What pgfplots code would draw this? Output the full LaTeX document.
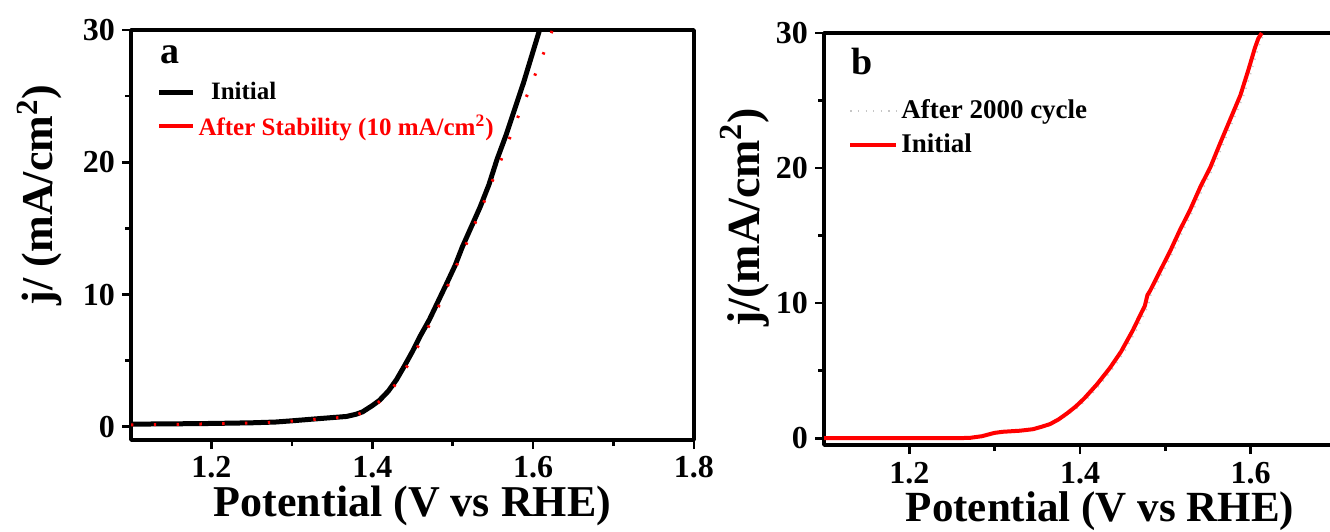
\documentclass[border=0pt]{standalone}
\usepackage{fontspec}
\setmainfont{Liberation Serif}
\usepackage{pgfplots}
\pgfplotsset{compat=1.18}

\pgfplotsset{
  lsvax/.style={
    scale only axis,
    axis line style={line width=1.8pt},
    tick style={line width=1.3pt, black},
    major tick length=4.5pt,
    minor tick length=3pt,
    tick align=outside,
    xtick pos=bottom, ytick pos=left,
    ytick={0,10,20,30}, minor ytick={5,15,25},
    tick label style={font=\fontsize{16}{18}\selectfont\bfseries},
    /pgf/number format/assume math mode=true,
    xticklabel style={/pgf/number format/fixed, /pgf/number format/fixed zerofill,
      /pgf/number format/precision=1},
    label style={font=\fontsize{22}{24}\selectfont\bfseries},
    legend cell align=left,
    legend style={draw=none, fill=none, anchor=north west,
      font=\fontsize{12.5}{14}\selectfont\bfseries,
      row sep=3pt, nodes={inner sep=1.5pt}},
    line join=round,
  }
}

\begin{document}
\begin{tikzpicture}
\useasboundingbox (0,0) rectangle (665pt,265.5pt);

% panel a
\begin{axis}[lsvax,
  at={(65.5pt,45.5pt)}, anchor=south west,
  width=281.5pt, height=205pt,
  xmin=1.1, xmax=1.8, ymin=-1, ymax=30,
  xtick={1.2,1.4,1.6,1.8}, minor xtick={1.3,1.5,1.7},
  xlabel={Potential (V vs RHE)},
  ylabel={j/ (mA/cm$^{\mathbf{2}}$)},
  xlabel style={at={(axis description cs:0.5,-0.16)}, anchor=center},
  ylabel style={at={(axis description cs:-0.162,0.598)}, anchor=center},
  legend image code/.code={\draw[#1] (0pt,0pt) -- (17pt,0pt);},
  legend style={at={(axis description cs:0.034,0.89)}},
]
\addplot[black, line width=2.5pt] coordinates {
(1.10,0.20) (1.15,0.22) (1.20,0.25) (1.25,0.30) (1.28,0.36) (1.30,0.45)
(1.32,0.55) (1.347,0.68) (1.368,0.78) (1.38,0.95) (1.388,1.13) (1.40,1.6)
(1.409,2.0) (1.42,2.7) (1.430,3.55) (1.44,4.6) (1.450,5.7) (1.46,6.9)
(1.471,8.1) (1.482,9.5) (1.493,10.9) (1.503,12.2) (1.512,13.6) (1.523,15.1)
(1.534,16.6) (1.545,18.3) (1.555,20.2) (1.566,22.0) (1.577,24.0) (1.588,26.0)
(1.598,28.0) (1.608,30.0)
};
\addlegendentry{\ \ Initial}
\addplot[red, line width=1.5pt, dash pattern=on 1.2pt off 10.2pt, forget plot] coordinates {
(1.10,0.15) (1.15,0.18) (1.20,0.22) (1.25,0.28) (1.28,0.34) (1.30,0.43)
(1.32,0.52) (1.347,0.64) (1.368,0.74) (1.38,0.9) (1.394,1.2) (1.405,1.7)
(1.416,2.27) (1.425,2.9) (1.435,3.7) (1.450,5.3) (1.464,6.9) (1.478,8.5)
(1.490,10.1) (1.501,11.7) (1.514,13.4) (1.525,15.0) (1.537,16.7) (1.548,18.4)
(1.559,20.0) (1.570,21.7) (1.581,23.4) (1.592,25.0) (1.603,26.7) (1.614,28.4)
(1.624,30.0)
};
\addlegendimage{red, line width=2pt}
\addlegendentry{\textcolor{red}{After Stability (10 mA/cm$^{\mathbf{2}}$)}}
\node[font=\fontsize{19}{20}\selectfont\bfseries, anchor=center] at (axis description cs:0.069,0.939) {a};
\end{axis}

% panel b
\begin{axis}[lsvax,
  at={(412pt,43pt)}, anchor=south west,
  width=256pt, height=206pt,
  xmin=1.1, xmax=1.7, ymin=-0.5, ymax=30,
  xtick={1.2,1.4,1.6}, minor xtick={1.3,1.5,1.7},
  xticklabel style={/tikz/inner sep=1pt}, xticklabel shift=3pt,
  xlabel={Potential (V vs RHE)},
  ylabel={j/(mA/cm$^{\mathbf{2}}$)},
  label style={font=\fontsize{23}{25}\selectfont\bfseries},
  xlabel style={at={(axis description cs:0.539,-0.16)}, anchor=center,
    inner sep=0pt, font=\fontsize{21.5}{23}\selectfont\bfseries},
  ylabel style={at={(axis description cs:-0.154,0.553)}, anchor=center},
  legend image code/.code={\draw[#1] (0pt,0pt) -- (23pt,0pt);},
  legend style={at={(axis description cs:0.035,0.856)},
    font=\fontsize{13.5}{15}\selectfont\bfseries},
]
\addplot[gray!45, line width=0.8pt, dash pattern=on 0.6pt off 3.2pt] coordinates {
(1.10,0) (1.20,0) (1.27,0.02) (1.285,0.15) (1.30,0.4) (1.31,0.48) (1.33,0.56)
(1.345,0.67) (1.356,0.85) (1.367,1.05) (1.378,1.4) (1.388,1.85) (1.399,2.35)
(1.409,2.95) (1.424,4.0) (1.439,5.2) (1.452,6.4) (1.466,8.0) (1.476,9.3)
(1.480,9.8) (1.483,10.6) (1.486,10.9) (1.498,12.4) (1.510,13.9) (1.521,15.4)
(1.533,16.9) (1.545,18.6) (1.557,20.1) (1.568,21.8) (1.580,23.6) (1.592,25.4)
(1.601,27.2) (1.609,28.9) (1.613,29.6) (1.617,30)
};
\addlegendentry{After 2000 cycle}
\addplot[red, line width=2pt] coordinates {
(1.10,0) (1.20,0) (1.27,0.02) (1.285,0.15) (1.30,0.4) (1.31,0.48) (1.33,0.56)
(1.345,0.67) (1.355,0.85) (1.365,1.05) (1.375,1.4) (1.385,1.85) (1.395,2.35)
(1.405,2.95) (1.42,4.0) (1.435,5.2) (1.448,6.4) (1.462,8.0) (1.472,9.3)
(1.476,9.8) (1.479,10.6) (1.482,10.9) (1.494,12.4) (1.506,13.9) (1.517,15.4)
(1.529,16.9) (1.541,18.6) (1.553,20.1) (1.564,21.8) (1.576,23.6) (1.588,25.4)
(1.597,27.2) (1.605,28.9) (1.609,29.6) (1.613,30)
};
\addlegendentry{Initial}
\node[font=\fontsize{19}{20}\selectfont\bfseries, anchor=center] at (axis description cs:0.074,0.93) {b};
\end{axis}
\end{tikzpicture}
\end{document}
